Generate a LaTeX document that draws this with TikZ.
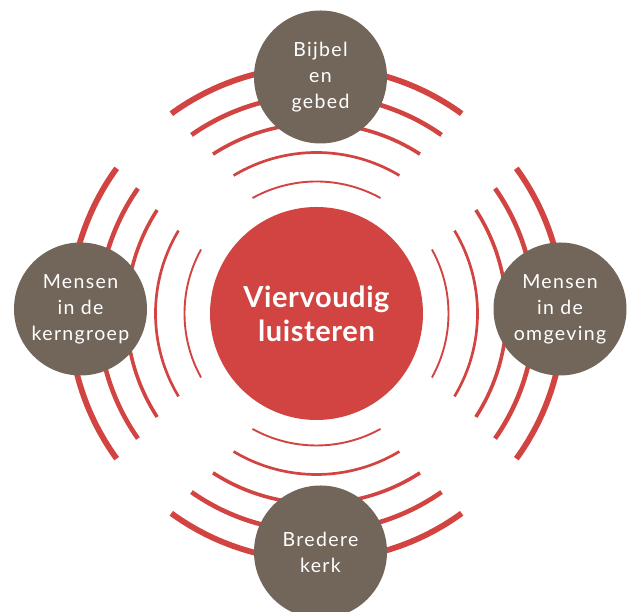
\documentclass[tikz,border=0pt]{standalone}
\usepackage{fontspec}
\setmainfont{Lato}
\definecolor{luisterrood}{HTML}{D24441}
\definecolor{bronbruin}{HTML}{72665A}
\def\drawgolf{\draw[color=luisterrood]}

\begin{document}
\begin{tikzpicture}[x=1pt,y=1pt,inner sep=0pt,
  bron/.style={circle,fill=bronbruin,minimum size=133pt,text=white,align=center,font=\fontsize{19.5}{26}\selectfont\addfontfeature{LetterSpace=7}}]
\useasboundingbox (0,0) rectangle (633,612);
\coordinate (mid) at (316.5,298.5);
% golven rond het midden
\foreach \dir in {0,90,180,270}
  \foreach \rad/\half/\wid in {132/29/1.9,161/31/2.7,190/33/3.6,218/35/4.6,247/36/5.8}
    \drawgolf[line width=\wid pt] (mid) ++(\dir-\half:\rad) arc[start angle=\dir-\half, end angle=\dir+\half, radius=\rad];
\node[circle,fill=luisterrood,minimum size=213pt,text=white,align=center,font=\bfseries\fontsize{29}{34}\selectfont\addfontfeature{LetterSpace=2}] (luisteren) at (mid) {Viervoudig\\luisteren};
\node[bron] (bijbel) at (320.5,535) {Bijbel\\en\\gebed};
\node[bron] (kerngroep) at (80.5,303) {Mensen\\in de\\kerngroep};
\node[bron] (omgeving) at (560,303) {Mensen\\in de\\omgeving};
\node[bron] (kerk) at (320.5,60) {Bredere\\kerk};
\end{tikzpicture}
\end{document}
